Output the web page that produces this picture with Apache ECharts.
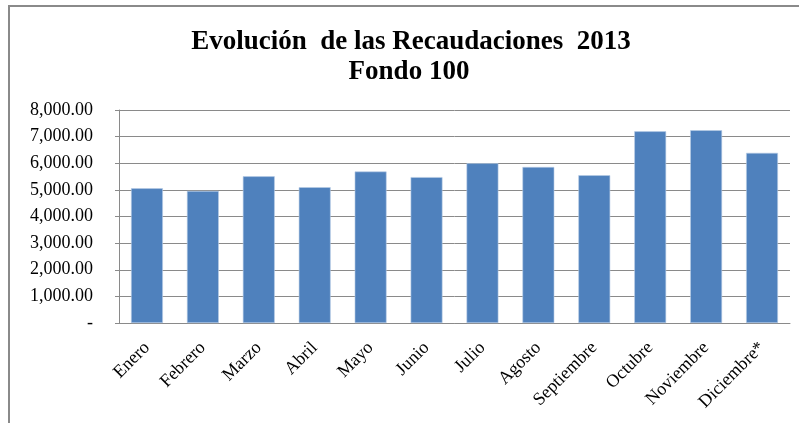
<!DOCTYPE html>
<html><head><meta charset="utf-8">
<script src="https://cdn.jsdelivr.net/npm/echarts@6/dist/echarts.min.js"></script>
<style>html,body{margin:0;padding:0;background:#fff;overflow:hidden}#c{width:799px;height:423px}</style>
</head><body><div id="c"></div>
<script>
const categories = ['Enero','Febrero','Marzo','Abril','Mayo','Junio','Julio','Agosto','Septiembre','Octubre','Noviembre','Diciembre*'];
const values = [5060, 4960, 5510, 5100, 5690, 5480, 6000, 5860, 5550, 7200, 7240, 6390];
const titleLines = ['Evolución  de las Recaudaciones  2013', 'Fondo 100'];

const chart = echarts.init(document.getElementById('c'), null, {renderer:'canvas'});
const fmt = v => v === 0 ? '-' : v.toLocaleString('en-US', {minimumFractionDigits:2, maximumFractionDigits:2});
const titleStyle = {fontFamily:'Liberation Serif', fontWeight:'bold', fontSize:27, fill:'#000', textAlign:'center', textVerticalAlign:'middle'};
chart.setOption({
  animation:false,
  graphic:[
    {type:'rect', shape:{x:9, y:6, width:820, height:440}, style:{fill:'none', stroke:'#8a8a8a', lineWidth:2}, silent:true},
    {type:'text', x:411, y:42, style:Object.assign({text:titleLines[0]}, titleStyle), silent:true},
    {type:'text', x:409, y:72, style:Object.assign({text:titleLines[1]}, titleStyle), silent:true}
  ],
  grid:{left:119, right:9, top:110, bottom:100, containLabel:false},
  xAxis:{type:'category', data:categories,
    axisLine:{lineStyle:{color:'#8a8a8a', width:1}}, axisTick:{show:false},
    axisLabel:{rotate:45, interval:0, fontFamily:'Liberation Serif', fontSize:18, color:'#000', margin:22}},
  yAxis:{type:'value', min:0, max:8000, interval:1000,
    axisLine:{show:true, lineStyle:{color:'#8a8a8a'}}, axisTick:{show:true, length:4, lineStyle:{color:'#8a8a8a'}},
    splitLine:{lineStyle:{color:'#8a8a8a', width:1}},
    axisLabel:{formatter:fmt, fontFamily:'Liberation Serif', fontSize:18, color:'#000', margin:26}},
  series:[{type:'bar', data:values, barWidth:'57%',
    itemStyle:{color:'#4f81bd', borderColor:'#b9cde5', borderWidth:0.6}}]
});
</script></body></html>
